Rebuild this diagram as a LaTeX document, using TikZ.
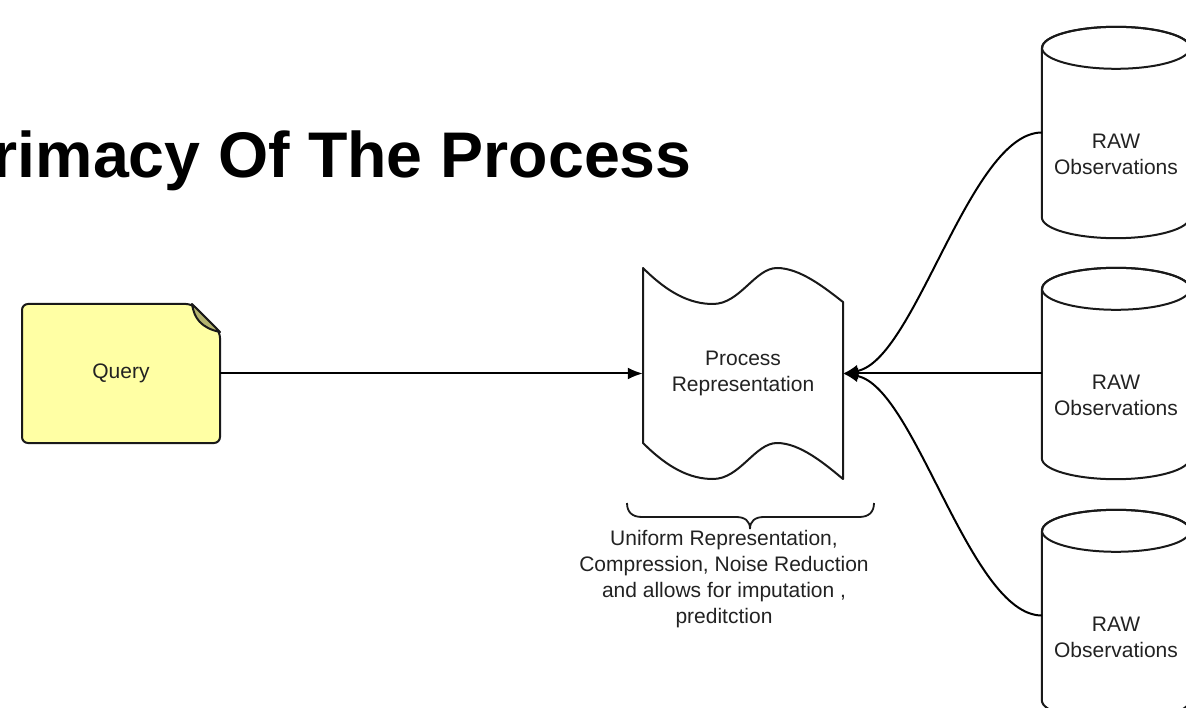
\documentclass[tikz,border=0pt]{standalone}
\usepackage{fontspec}
\setmainfont{Liberation Sans}
\usepackage{tikz}
\usetikzlibrary{arrows.meta, calc}

\definecolor{noteYellow}{RGB}{255,255,164}
\definecolor{noteFold}{RGB}{180,180,112}
\definecolor{inkGrey}{RGB}{34,34,34}

\tikzset{
  every node/.style={font=\fontsize{21}{26}\selectfont, text=inkGrey, align=center},
  shapeline/.style={line width=2pt, draw=black!90, line join=round},
  link/.style={line width=2pt, -{Latex[length=15pt,width=12pt]}},
  rawbox/.style={minimum width=148pt, minimum height=211pt, inner sep=0pt}
}

\begin{document}
\begin{tikzpicture}[x=1pt, y=1pt]

	\useasboundingbox (0,0) rectangle (1186,-708);
	\clip (0,0) rectangle (1186,-708);

	% title
	\node[anchor=base east, inner sep=0pt, text=black, font=\fontsize{64.5}{72}\selectfont\bfseries] (title) at (692,-178) {Primacy Of The Process};

	% query note with folded corner
	\filldraw[shapeline, fill=noteYellow, rounded corners=6pt] (22,-304) -- (192,-304) -- (220,-332) -- (220,-443) -- (22,-443) -- cycle;
	\filldraw[shapeline, fill=noteFold] (192,-304) .. controls (194,-318) and (201,-328) .. (220,-332) -- cycle;
	\node[minimum width=198pt, minimum height=139pt] (query) at (121,-373.5) {Query};

	% process representation (wavy tape)
	\filldraw[shapeline, fill=white] (643,-268) .. controls (668,-293) and (690,-304) .. (713,-304)
		.. controls (740,-304) and (755,-268) .. (777,-268)
		.. controls (800,-268) and (825,-288) .. (843,-302) -- (843,-479)
		.. controls (825,-464) and (800,-443) .. (777,-443)
		.. controls (755,-443) and (740,-479) .. (713,-479)
		.. controls (690,-479) and (668,-468) .. (643,-443) -- cycle;
	\node[minimum width=200pt, minimum height=150pt] (proc) at (743,-373.5) {Process\\Representation};

	% raw observation stores
	\foreach \i/\ytop in {1/27, 2/268, 3/510} {
		\node[rawbox] (raw\i) at (1116,-\ytop-105.5) {};
		\filldraw[shapeline, fill=white] ([yshift=-21pt]raw\i.north west) -- ([yshift=21pt]raw\i.south west)
			arc[start angle=180, end angle=360, x radius=74pt, y radius=21pt]
			-- ([yshift=-21pt]raw\i.north east)
			arc[start angle=0, end angle=180, x radius=74pt, y radius=21pt] -- cycle;
		\draw[shapeline] ([yshift=-21pt]raw\i.north) ellipse [x radius=74pt, y radius=21pt];
		\node (rawtext\i) at ([yshift=-21.5pt]raw\i.center) {RAW\\Observations};
	}

	% connectors
	\draw[link] (query.east) -- (proc.west);
	\draw[link] (raw2.west) -- (proc.east);
	\draw[link] (raw1.west) .. controls +(-72,0) and +(72,13) .. (proc.east);
	\draw[link] (raw3.west) .. controls +(-72,0) and +(72,-13) .. (proc.east);

	% brace and note below the process
	\draw[line width=1.8pt, draw=black!90] (627,-503) .. controls (627,-512) and (632,-517) .. (642,-517) -- (736,-517)
		.. controls (745,-517) and (750,-521) .. (750,-529)
		.. controls (750,-521) and (755,-517) .. (764,-517) -- (859,-517)
		.. controls (869,-517) and (874,-512) .. (874,-503);
	\node (note) at (724,-579) {Uniform Representation,\\Compression, Noise Reduction\\and allows for imputation ,\\preditction};

\end{tikzpicture}
\end{document}
